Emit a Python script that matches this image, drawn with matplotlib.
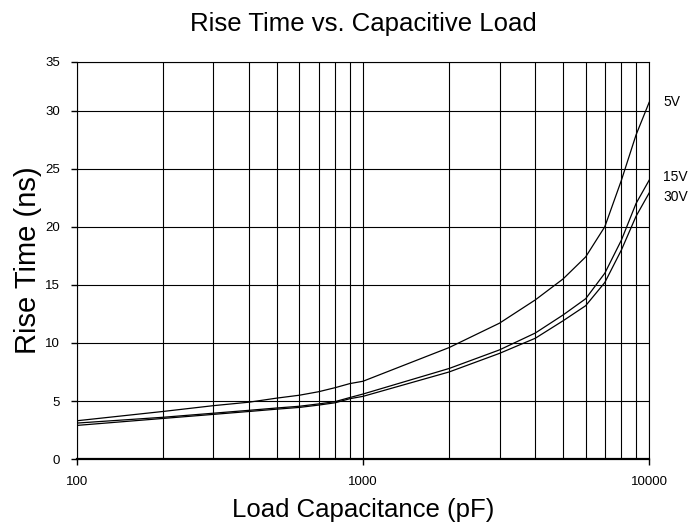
import numpy as np
import matplotlib
matplotlib.use("Agg")
import matplotlib.pyplot as plt
from matplotlib.ticker import FixedLocator, NullFormatter

plt.rcParams['font.family'] = ['Liberation Sans', 'DejaVu Sans']

# load capacitance (pF)
cap = [100, 200, 300, 400, 500, 600, 700, 800, 900, 1000,
       2000, 3000, 4000, 5000, 6000, 7000, 8000, 9000, 10000]

# rise time (ns)
rise_5v = [3.3, 4.1, 4.6, 4.9, 5.25, 5.5, 5.8, 6.15, 6.5, 6.7,
           9.6, 11.7, 13.7, 15.5, 17.4, 20.0, 24.0, 27.9, 30.7]
rise_15v = [3.1, 3.6, 3.95, 4.2, 4.4, 4.55, 4.75, 4.95, 5.3, 5.6,
            7.8, 9.4, 10.85, 12.4, 13.8, 16.0, 18.85, 22.0, 24.0]
rise_30v = [2.9, 3.5, 3.85, 4.1, 4.3, 4.45, 4.65, 4.85, 5.2, 5.4,
            7.5, 9.1, 10.4, 11.9, 13.2, 15.2, 18.0, 20.9, 22.9]

y_ticks = [0, 5, 10, 15, 20, 25, 30]
y_tick_labels = ['0', '5', '10', '15', '20', '25', '30', '35']

fig = plt.figure(figsize=(6.98, 5.32), dpi=100)
ax = fig.add_axes([0.110, 0.137, 0.820, 0.747])

for vals in (rise_5v, rise_15v, rise_30v):
    ax.plot(cap, vals, color='black', lw=0.9)

ax.set_xscale('log')
ax.set_xlim(100, 10000)
# top edge of the plot sits a bit below 35 in the original
ax.set_ylim(0, 34.2)

ax.xaxis.set_major_locator(FixedLocator([100, 1000, 10000]))
ax.set_xticklabels(['100', '1000', '10000'])
minor = [m * d for d in (100, 1000) for m in range(2, 10)]
ax.xaxis.set_minor_locator(FixedLocator(minor))
ax.xaxis.set_minor_formatter(NullFormatter())
ax.set_yticks(y_ticks + [34.2])
ax.set_yticklabels(y_tick_labels)

ax.grid(True, which='both', color='black', lw=0.8)
ax.tick_params(axis='both', which='major', direction='out', length=4,
               width=1, labelsize=9.5, pad=8)
ax.tick_params(axis='x', which='minor', length=0)
for s in ax.spines.values():
    s.set_linewidth(0.8)
ax.spines['bottom'].set_linewidth(1.6)

ax.set_title('Rise Time vs. Capacitive Load', fontsize=18.5, pad=22)
ax.set_xlabel('Load Capacitance (pF)', fontsize=18.5, labelpad=7)
ax.set_ylabel('Rise Time (ns)', fontsize=21, labelpad=2)

tr = ax.get_yaxis_transform()
ax.text(1.025, rise_5v[-1], '5V', transform=tr, fontsize=10, va='center', ha='left')
ax.text(1.025, rise_15v[-1] + 0.3, '15V', transform=tr, fontsize=10, va='center', ha='left')
ax.text(1.025, rise_30v[-1] - 0.3, '30V', transform=tr, fontsize=10, va='center', ha='left')

fig.savefig('out.png', dpi=100)
